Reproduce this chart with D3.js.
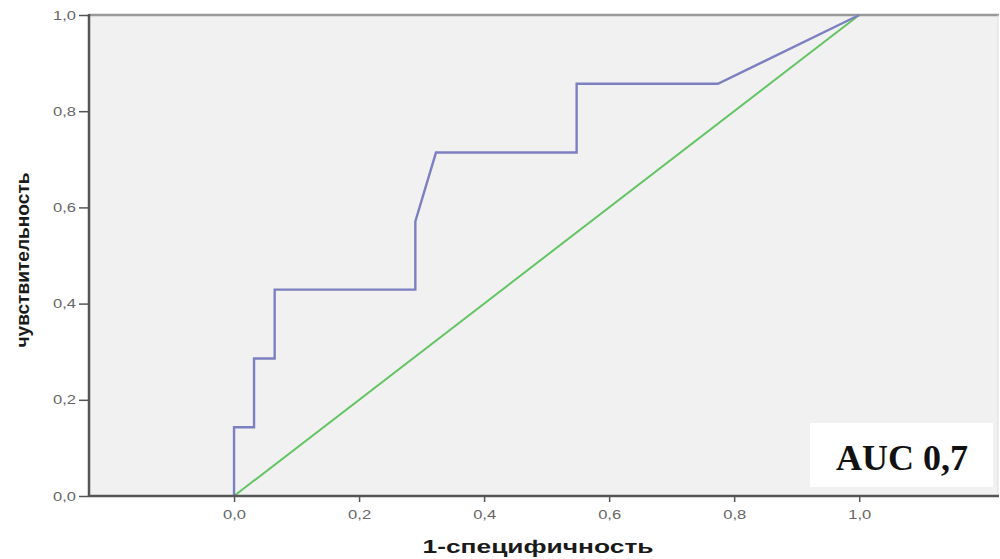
<!DOCTYPE html>
<html>
<head>
<meta charset="utf-8">
<script src="https://cdn.jsdelivr.net/npm/d3@7"></script>
<style>
  html, body { margin: 0; padding: 0; background: #fff; }
  svg { display: block; }
</style>
</head>
<body>
<svg id="chart" width="1000" height="559"></svg>
<script>
// ROC curve (1 - specificity, sensitivity)
const fpr = [0, 0, 0.032, 0.032, 0.065, 0.065, 0.29, 0.29, 0.323, 0.548, 0.548, 0.774, 1];
const tpr = [0, 0.143, 0.143, 0.286, 0.286, 0.429, 0.429, 0.571, 0.714, 0.714, 0.857, 0.857, 1];
// reference (chance) line
const refX = [0, 1];
const refY = [0, 1];
const xTicks = [0, 0.2, 0.4, 0.6, 0.8, 1.0];
const yTicks = [0, 0.2, 0.4, 0.6, 0.8, 1.0];
const xTitle = "1-специфичность";
const yTitle = "чувствительность";
const aucLabel = "AUC 0,7";

(function () {
const svg = d3.select("#chart");
const pL = 89, pR = 998, pT = 15, pB = 496;

const x = d3.scaleLinear().domain([-0.232, 1.222]).range([pL, pR]);
const y = d3.scaleLinear().domain([0, 1]).range([pB, pT]);
const fmt = d => d.toFixed(1).replace(".", ",");

// plot background
svg.append("rect")
  .attr("x", pL).attr("y", pT)
  .attr("width", pR - pL).attr("height", pB - pT)
  .attr("fill", "#f1f1f1");

// top and right frame
svg.append("line").attr("x1", pL).attr("x2", pR + 1).attr("y1", pT).attr("y2", pT)
  .attr("stroke", "#999").attr("stroke-width", 2.5);
svg.append("line").attr("x1", pR).attr("x2", pR).attr("y1", pT).attr("y2", pB)
  .attr("stroke", "#ddd").attr("stroke-width", 1);

// AUC box
svg.append("rect")
  .attr("x", 810).attr("y", 423).attr("width", 183).attr("height", 64)
  .attr("fill", "#ffffff");
svg.append("text")
  .attr("x", 902).attr("y", 470)
  .attr("text-anchor", "middle")
  .attr("font-family", "'Liberation Serif', 'Times New Roman', serif")
  .attr("font-weight", "bold")
  .attr("font-size", 36)
  .attr("fill", "#111")
  .text(aucLabel);

// lines
const line = d3.line().x(d => x(d[0])).y(d => y(d[1]));
svg.append("path")
  .datum(refX.map((v, i) => [v, refY[i]]))
  .attr("d", line)
  .attr("fill", "none")
  .attr("stroke", "#62c462")
  .attr("stroke-width", 2);
svg.append("path")
  .datum(fpr.map((v, i) => [v, tpr[i]]))
  .attr("d", line)
  .attr("fill", "none")
  .attr("stroke", "#7d80c0")
  .attr("stroke-width", 2.4);

// axes
const yAxis = svg.append("g").attr("transform", `translate(${pL},0)`)
  .call(d3.axisLeft(y).tickValues(yTicks).tickFormat(fmt).tickSize(10).tickSizeOuter(0).tickPadding(3));
const xAxis = svg.append("g").attr("transform", `translate(0,${pB})`)
  .call(d3.axisBottom(x).tickValues(xTicks).tickFormat(fmt).tickSize(6).tickSizeOuter(0).tickPadding(8));

[yAxis, xAxis].forEach(g => {
  g.select(".domain").attr("stroke", "#555").attr("stroke-width", 2.5);
  g.selectAll(".tick line").attr("stroke", "#555").attr("stroke-width", 1.5);
  g.selectAll(".tick text")
    .attr("font-family", "Arial, 'Liberation Sans', sans-serif")
    .attr("font-size", 13)
    .attr("textLength", 23)
    .attr("lengthAdjust", "spacingAndGlyphs")
    .attr("fill", "#666");
});
xAxis.select(".domain").attr("d", `M${pL},0H${pR + 1}`);
yAxis.select(".domain").attr("d", `M0,${pB + 1}V${pT - 1}`);

// titles
svg.append("text")
  .attr("x", 538).attr("y", 553)
  .attr("text-anchor", "middle")
  .attr("font-family", "Arial, 'Liberation Sans', sans-serif")
  .attr("font-weight", "bold")
  .attr("font-size", 19)
  .attr("textLength", 231)
  .attr("lengthAdjust", "spacingAndGlyphs")
  .attr("fill", "#1a1a1a")
  .text(xTitle);
svg.append("text")
  .attr("transform", "translate(29,260) rotate(-90)")
  .attr("text-anchor", "middle")
  .attr("font-family", "Arial, 'Liberation Sans', sans-serif")
  .attr("font-weight", "bold")
  .attr("font-size", 18)
  .attr("textLength", 175)
  .attr("lengthAdjust", "spacingAndGlyphs")
  .attr("fill", "#1a1a1a")
  .text(yTitle);
})();
</script>
</body>
</html>
